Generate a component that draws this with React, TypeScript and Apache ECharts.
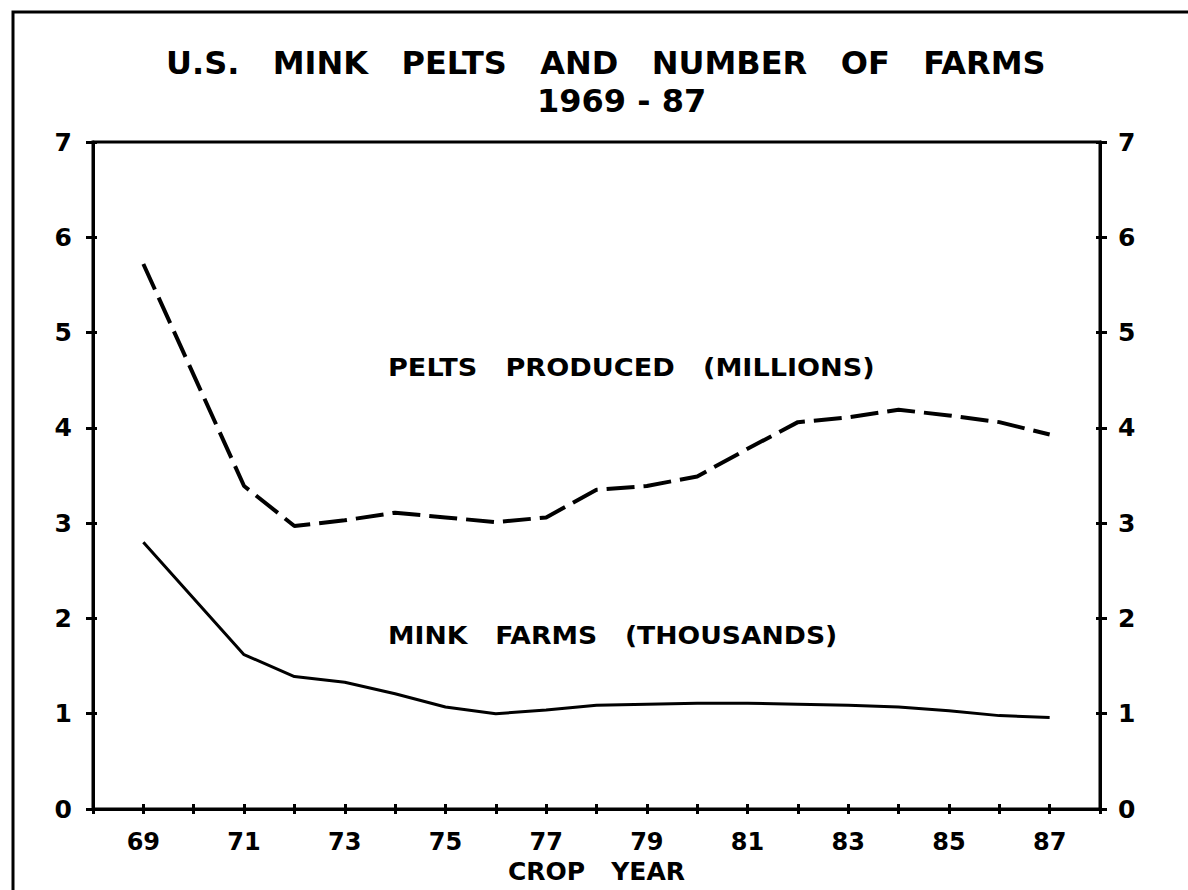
import React, { useEffect, useRef } from 'react';
import * as echarts from 'echarts';

const years = [69, 71, 72, 73, 74, 75, 76, 77, 78, 79, 80, 81, 82, 83, 84, 85, 86, 87];
const peltsMillions = [5.72, 3.39, 2.97, 3.03, 3.11, 3.06, 3.01, 3.06, 3.35, 3.39, 3.49, 3.78, 4.06, 4.11, 4.19, 4.13, 4.06, 3.93];
const farmsThousands = [2.8, 1.62, 1.39, 1.33, 1.21, 1.07, 1.0, 1.04, 1.09, 1.1, 1.11, 1.11, 1.1, 1.09, 1.07, 1.03, 0.98, 0.96];
const xTickLabels = ['69', '71', '73', '75', '77', '79', '81', '83', '85', '87'];
const yTickLabels = ['0', '1', '2', '3', '4', '5', '6', '7'];
const titleLines = ['U.S.   MINK   PELTS   AND   NUMBER   OF   FARMS', '1969 - 87'];
const seriesLabels = ['PELTS   PRODUCED   (MILLIONS)', 'MINK   FARMS   (THOUSANDS)'];
const xAxisName = 'CROP   YEAR';

const FONT = 'DejaVu Sans';
const INK = '#000';

export default function App() {
  const ref = useRef<HTMLDivElement>(null);
  useEffect(() => {
    if (!ref.current) return;
    const chart = echarts.init(ref.current, null, { renderer: 'svg' });
    const xFmt = (v: number) => {
      const s = String(v);
      return xTickLabels.indexOf(s) >= 0 ? s : '';
    };
    const yFmt = (v: number) => {
      const s = String(v);
      return yTickLabels.indexOf(s) >= 0 ? s : '';
    };
    const textBase = { color: INK, fontFamily: FONT, fontWeight: 'bold' as const };
    const baseX = {
      type: 'value' as const,
      min: 68,
      max: 88,
      interval: 1,
      position: 'bottom' as const,
      offset: 0,
      splitLine: { show: false },
    };
    const baseY = {
      type: 'value' as const,
      min: 0,
      max: 7,
      interval: 1,
      offset: 0,
      splitLine: { show: false },
    };
    chart.setOption({
      animation: false,
      backgroundColor: '#fff',
      title: [
        {
          text: titleLines[0],
          left: 166,
          top: 47,
          padding: 0,
          textStyle: { ...textBase, fontSize: 32 },
        },
        {
          text: titleLines[1],
          left: 537,
          top: 85,
          padding: 0,
          textStyle: { ...textBase, fontSize: 32 },
        },
      ],
      grid: {
        left: 93,
        right: 88,
        top: 142,
        bottom: 81,
        outerBoundsMode: 'none',
        containLabel: false,
        show: true,
        borderColor: INK,
        borderWidth: 3,
        backgroundColor: 'transparent',
      },
      xAxis: [
        {
          ...baseX,
          name: xAxisName,
          nameLocation: 'middle',
          nameGap: 47,
          nameTextStyle: { ...textBase, fontSize: 25 },
          axisLine: { show: true, onZero: false, lineStyle: { color: INK, width: 3 } },
          axisTick: { show: true, inside: false, length: 5, lineStyle: { color: INK, width: 3 } },
          axisLabel: { ...textBase, fontSize: 24, margin: 21, formatter: xFmt },
        },
        {
          ...baseX,
          axisLine: { show: false, onZero: false },
          axisTick: { show: true, inside: true, length: 5, lineStyle: { color: INK, width: 3 } },
          axisLabel: { show: false },
        },
      ],
      yAxis: [
        {
          ...baseY,
          position: 'left',
          axisLine: { show: true, lineStyle: { color: INK, width: 3 } },
          axisTick: { show: true, inside: false, length: 7, lineStyle: { color: INK, width: 3 } },
          axisLabel: { ...textBase, fontSize: 25, margin: 21, formatter: yFmt },
        },
        {
          ...baseY,
          position: 'left',
          axisLine: { show: false },
          axisTick: { show: true, inside: true, length: 4, lineStyle: { color: INK, width: 3 } },
          axisLabel: { show: false },
        },
        {
          ...baseY,
          position: 'right',
          axisLine: { show: true, lineStyle: { color: INK, width: 3 } },
          axisTick: { show: true, inside: false, length: 7, lineStyle: { color: INK, width: 3 } },
          axisLabel: { ...textBase, fontSize: 25, margin: 18, formatter: yFmt },
        },
        {
          ...baseY,
          position: 'right',
          axisLine: { show: false },
          axisTick: { show: true, inside: true, length: 4, lineStyle: { color: INK, width: 3 } },
          axisLabel: { show: false },
        },
      ],
      graphic: [
        {
          type: 'polyline',
          shape: { points: [[13, 890], [13, 12], [1188, 12]] },
          style: { stroke: INK, lineWidth: 3, fill: 'none' },
          silent: true,
        },
        {
          type: 'text',
          x: 388,
          y: 368,
          scaleX: 1.13,
          style: { text: seriesLabels[0], fill: INK, font: `bold 24px "${FONT}"`, textVerticalAlign: 'middle' },
          silent: true,
        },
        {
          type: 'text',
          x: 388,
          y: 635,
          scaleX: 1.11,
          style: { text: seriesLabels[1], fill: INK, font: `bold 24px "${FONT}"`, textVerticalAlign: 'middle' },
          silent: true,
        },
      ],
      series: [
        {
          name: 'Pelts produced (millions)',
          type: 'line',
          xAxisIndex: 0,
          yAxisIndex: 0,
          data: years.map((y, i) => [y, peltsMillions[i]]),
          showSymbol: false,
          symbol: 'none',
          lineStyle: { color: INK, width: 4, type: [28, 9] },
        },
        {
          name: 'Mink farms (thousands)',
          type: 'line',
          xAxisIndex: 0,
          yAxisIndex: 0,
          data: years.map((y, i) => [y, farmsThousands[i]]),
          showSymbol: false,
          symbol: 'none',
          lineStyle: { color: INK, width: 3, type: 'solid' },
        },
      ],
    });
    return () => chart.dispose();
  }, []);
  return (
    <div
      ref={ref}
      style={{ position: 'fixed', left: 0, top: 0, width: 1188, height: 890, background: '#fff' }}
    />
  );
}
